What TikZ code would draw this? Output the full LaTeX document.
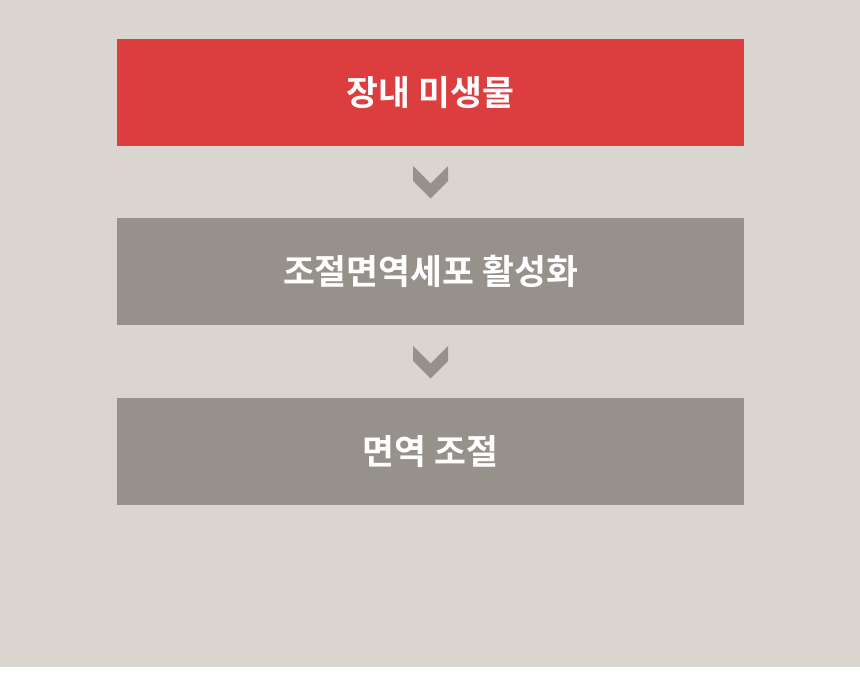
\documentclass[tikz,border=0pt]{standalone}
\usepackage{fontspec}
\setmainfont{Noto Sans CJK KR}[BoldFont={Noto Sans CJK KR Bold}]
\definecolor{bgbeige}{HTML}{DAD6CF}
\definecolor{boxred}{HTML}{DC3E40}
\definecolor{boxgray}{HTML}{96918A}
\begin{document}
\begin{tikzpicture}[x=0.75pt, y=-0.75pt,
		stage/.style={fill=#1, text=white, shape=rectangle, minimum width=470.25pt, minimum height=80.25pt, inner sep=0pt, font=\fontsize{26}{29}\selectfont\bfseries},
		chevron/.style={fill=boxgray}]
	\useasboundingbox (0,0) rectangle (860,674);
	\fill[white] (0,0) rectangle (860,674);
	\fill[bgbeige] (0,0) rectangle (860,667);

	\node[stage=boxred] (microbe) at (430.5,92.5) {\raisebox{1.5pt}{장내 미생물}};
	\node[stage=boxgray] (treg) at (430.5,271.5) {\raisebox{1.5pt}{조절면역세포 활성화}};
	\node[stage=boxgray] (immune) at (430.5,451.5) {\raisebox{1.5pt}{면역 조절}};

	\fill[chevron] (413,166) -- (430.5,183.5) -- (448,166) -- (448,181) -- (430.5,198.5) -- (413,181) -- cycle;
	\fill[chevron] (413,346) -- (430.5,363.5) -- (448,346) -- (448,361) -- (430.5,378.5) -- (413,361) -- cycle;
\end{tikzpicture}
\end{document}
